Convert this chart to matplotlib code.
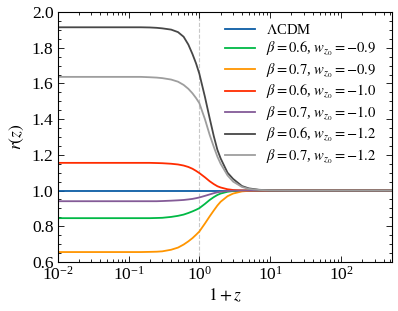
import matplotlib
matplotlib.use('Agg')
import matplotlib.pyplot as plt
from matplotlib.ticker import AutoMinorLocator, LogLocator

plt.rcParams['font.family'] = ['Liberation Serif', 'DejaVu Serif']
plt.rcParams['mathtext.fontset'] = 'stix'
plt.rcParams['font.size'] = 12.5

# 1+z 샘플 지점
x = [0.01, 0.03, 0.1, 0.15, 0.2, 0.25, 0.3, 0.4, 0.5, 0.6, 0.7, 0.8, 0.9, 1.0,
     1.2, 1.4, 1.6, 1.8, 2.0, 2.5, 3.0, 4.0, 5.0, 7.0, 10, 20, 50, 100, 520]

r_lcdm = [1.0] * len(x)
r_b06_w09 = [0.845, 0.845, 0.845, 0.845, 0.845, 0.846, 0.847, 0.852, 0.858, 0.865, 0.874, 0.883, 0.892, 0.901,
             0.925, 0.947, 0.963, 0.975, 0.983, 0.993, 0.997, 0.999, 1.0, 1.0, 1.0, 1.0, 1.0, 1.0, 1.0]
r_b07_w09 = [0.655, 0.655, 0.655, 0.655, 0.656, 0.657, 0.659, 0.668, 0.680, 0.697, 0.715, 0.733, 0.752, 0.770,
             0.815, 0.855, 0.888, 0.916, 0.937, 0.968, 0.983, 0.995, 0.998, 1.0, 1.0, 1.0, 1.0, 1.0, 1.0]
r_b06_w10 = [1.155, 1.155, 1.155, 1.155, 1.155, 1.154, 1.153, 1.150, 1.146, 1.140, 1.132, 1.122, 1.110, 1.098,
             1.074, 1.052, 1.036, 1.024, 1.017, 1.007, 1.003, 1.001, 1.0, 1.0, 1.0, 1.0, 1.0, 1.0, 1.0]
r_b07_w10 = [0.940, 0.940, 0.940, 0.940, 0.940, 0.940, 0.941, 0.943, 0.945, 0.947, 0.950, 0.953, 0.957, 0.961,
             0.970, 0.978, 0.985, 0.990, 0.993, 0.997, 0.999, 1.0, 1.0, 1.0, 1.0, 1.0, 1.0, 1.0, 1.0]
r_b06_w12 = [1.915, 1.915, 1.915, 1.915, 1.914, 1.912, 1.909, 1.902, 1.888, 1.862, 1.818, 1.765, 1.712, 1.655,
             1.525, 1.405, 1.305, 1.228, 1.180, 1.100, 1.065, 1.025, 1.012, 1.004, 1.001, 1.0, 1.0, 1.0, 1.0]
r_b07_w12 = [1.637, 1.637, 1.637, 1.637, 1.635, 1.633, 1.630, 1.622, 1.610, 1.592, 1.570, 1.545, 1.518, 1.490,
             1.400, 1.312, 1.245, 1.190, 1.150, 1.085, 1.050, 1.020, 1.009, 1.003, 1.001, 1.0, 1.0, 1.0, 1.0]

series = [r_lcdm, r_b06_w09, r_b07_w09, r_b06_w10, r_b07_w10, r_b06_w12, r_b07_w12]
labels = [r'$\Lambda$CDM',
          r'$\beta = 0.6$, $w_{z_0} = -0.9$',
          r'$\beta = 0.7$, $w_{z_0} = -0.9$',
          r'$\beta = 0.6$, $w_{z_0} = -1.0$',
          r'$\beta = 0.7$, $w_{z_0} = -1.0$',
          r'$\beta = 0.6$, $w_{z_0} = -1.2$',
          r'$\beta = 0.7$, $w_{z_0} = -1.2$']
colors = ['#0C5DA5', '#00B945', '#FF9500', '#FF2C00', '#845B97', '#474747', '#9e9e9e']

fig = plt.figure(figsize=(3.98, 3.11), dpi=100)
ax = fig.add_axes([0.145, 0.158, 0.839, 0.803])

ax.axvline(1.0, color='#c8c8c8', ls='--', lw=0.8, zorder=0)
for y, lab, c in zip(series, labels, colors):
    ax.plot(x, y, color=c, lw=1.3, label=lab)

ax.set_xscale('log')
ax.set_xlim(1e-2, 520)
ax.set_ylim(0.6, 2.0)
ax.set_xlabel(r'$1+z$', labelpad=2)
ax.set_ylabel(r'$r(z)$', labelpad=4)

ax.yaxis.set_minor_locator(AutoMinorLocator(4))
ax.xaxis.set_minor_locator(LogLocator(base=10, subs=range(2, 10), numticks=20))
ax.tick_params(which='both', direction='in', top=True, right=True, width=0.6, pad=3)
ax.tick_params(which='major', length=4.5)
ax.tick_params(which='minor', length=2.5)
for s in ax.spines.values():
    s.set_linewidth(0.8)

ax.legend(loc='upper left', frameon=False, fontsize=10.5, handlelength=2.0,
          handletextpad=0.8, labelspacing=0.2, borderaxespad=0,
          bbox_to_anchor=(0.485, 0.98))

fig.savefig('out.png', dpi=100)
